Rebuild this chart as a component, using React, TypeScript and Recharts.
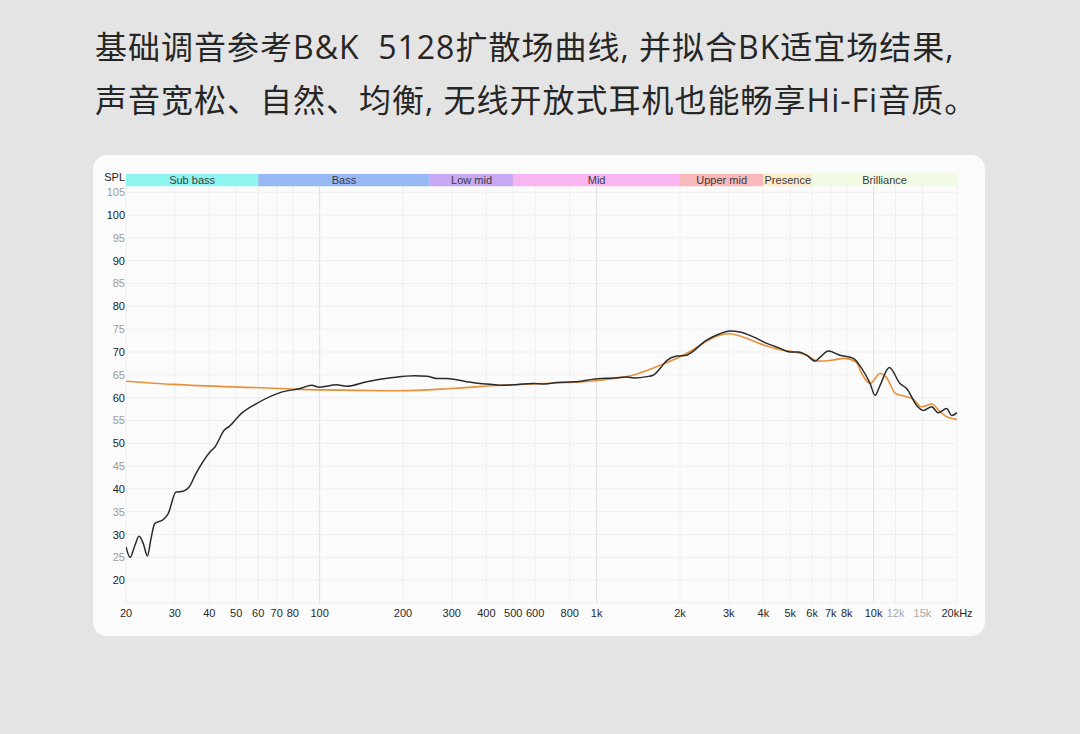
import {
  LineChart,
  Line,
  XAxis,
  YAxis,
  CartesianGrid,
  ReferenceArea,
  ReferenceLine,
} from "recharts";

const TITLE_LINES = [
  "基础调音参考B&K  5128扩散场曲线, 并拟合BK适宜场结果,",
  "声音宽松、自然、均衡, 无线开放式耳机也能畅享Hi-Fi音质。",
];

const X_TICKS = [
  20, 30, 40, 50, 60, 70, 80, 100, 200, 300, 400, 500, 600, 800, 1000, 2000,
  3000, 4000, 5000, 6000, 7000, 8000, 10000, 12000, 15000, 20000,
];
const X_TICKS_MUTED = [12000, 15000];
const X_DECADES = [100, 1000, 10000];
const Y_TICKS = [
  20, 25, 30, 35, 40, 45, 50, 55, 60, 65, 70, 75, 80, 85, 90, 95, 100, 105,
];

const BAND_NAMES = [
  "Sub bass",
  "Bass",
  "Low mid",
  "Mid",
  "Upper mid",
  "Presence",
  "Brilliance",
];
const BAND_EDGES = [20, 60, 250, 500, 2000, 4000, 6000, 20000];
const BAND_COLORS = [
  "#8ef5f1",
  "#98b7f5",
  "#c8a8f1",
  "#f8b5f1",
  "#f9b8b9",
  "#fcebc8",
  "#f0fbe1",
];

// measured response (black)
const MEASURED_FREQ = [
  20, 20.7, 21.5, 22.3, 23.1, 23.9, 24.6, 25.4, 27.3, 28.4, 30.3, 32.2, 33.8,
  35.8, 40.2, 41.9, 45.3, 47.2, 52.1, 59.2, 72, 85, 93.5, 100, 115, 125, 148,
  184, 220, 244, 264, 287, 339, 379, 422, 449, 520, 589, 650, 716, 800, 880,
  967, 1141, 1280, 1370, 1520, 1600, 1700, 1790, 1946, 2114, 2174, 2496, 2787,
  3030, 3294, 3680, 4112, 4592, 4990, 5348, 5732, 6140, 6400, 6860, 7560,
  8452, 9058, 9712, 10116, 10550, 11392, 12450, 13160, 14300, 15110, 16200,
  17100, 18360, 19140, 20000,
];
const MEASURED_SPL = [
  27.3, 25.0, 27.5, 29.6, 28.0, 25.3, 29.0, 32.4, 33.3, 34.6, 39.3, 39.5, 40.4,
  43.4, 48.1, 49.2, 52.9, 53.7, 56.5, 58.7, 61.1, 62.0, 62.7, 62.3, 62.8, 62.5,
  63.5, 64.4, 64.8, 64.7, 64.2, 64.2, 63.5, 63.1, 62.9, 62.7, 62.9, 63.1, 63.0,
  63.3, 63.4, 63.6, 64.0, 64.3, 64.5, 64.3, 64.6, 64.9, 66.5, 68.1, 69.1, 69.3,
  69.7, 72.6, 74.0, 74.6, 74.4, 73.3, 71.9, 70.8, 70.0, 70.0, 69.3, 68.0, 68.8,
  70.2, 69.3, 68.6, 66.4, 63.1, 60.5, 62.7, 66.6, 63.1, 62.0, 58.3, 57.2, 58.0,
  56.7, 57.6, 56.1, 56.7,
];

// fitted target (orange)
const TARGET_FREQ = [
  20, 29.6, 64.4, 85, 140, 194, 300, 449, 782, 1030, 1400, 1700, 1990, 2230,
  2496, 2787, 3030, 3294, 3680, 4112, 4592, 5150, 5732, 6300, 7040, 7860, 8640,
  9058, 9712, 10550, 11100, 12000, 13160, 13800, 14900, 16200, 17400, 18360,
  19700, 20000,
];
const TARGET_SPL = [
  63.6, 62.9, 62.1, 61.8, 61.6, 61.5, 62.0, 62.7, 63.3, 63.8, 65.2, 67.1, 68.9,
  70.5, 72.4, 73.7, 74.0, 73.5, 72.4, 71.3, 70.5, 70.0, 69.3, 68.0, 68.2, 68.6,
  67.8, 65.3, 63.1, 65.3, 64.5, 60.9, 60.2, 59.8, 58.0, 58.6, 56.9, 55.8, 55.3,
  55.2,
];

const measured = MEASURED_FREQ.map((f, i) => ({ f, spl: MEASURED_SPL[i] }));
const target = TARGET_FREQ.map((f, i) => ({ f, spl: TARGET_SPL[i] }));

const CHART_FONT = '"Liberation Sans", Arial, sans-serif';

function fmtFreq(v: number) {
  if (v === 20000) return "20kHz";
  if (v >= 1000) return `${v / 1000}k`;
  return `${v}`;
}

function XTick({ x, y, payload }: any) {
  const v = payload.value;
  return (
    <text
      x={x}
      y={y}
      dy="0.71em"
      textAnchor="middle"
      fontSize={11}
      fontFamily={CHART_FONT}
      fill={X_TICKS_MUTED.includes(v) ? "#a8a8a8" : "#2a2a2a"}
    >
      {fmtFreq(v)}
    </text>
  );
}

function YTick({ x, y, payload }: any) {
  const v = payload.value;
  return (
    <text
      x={x}
      y={y}
      dy="0.36em"
      textAnchor="end"
      fontSize={11}
      fontFamily={CHART_FONT}
      fill={v % 10 === 0 ? "#222222" : "#9a9a9a"}
    >
      {v}
    </text>
  );
}

export default function App() {
  return (
    <div
      style={{
        position: "absolute",
        left: 0,
        top: 0,
        width: 1080,
        height: 734,
        background: "#e4e4e4",
        overflow: "hidden",
      }}
    >
      <div
        style={{
          position: "absolute",
          left: 95,
          top: 20,
          fontFamily: '"Open Sans", "Noto Sans CJK SC", sans-serif',
          fontSize: 32,
          lineHeight: "53px",
          letterSpacing: 1,
          color: "#262626",
          whiteSpace: "pre",
        }}
      >
        {TITLE_LINES.map((t) => (
          <div key={t}>{t}</div>
        ))}
      </div>

      <div
        style={{
          position: "absolute",
          left: 93,
          top: 155,
          width: 892,
          height: 481,
          borderRadius: 14,
          background: "#fbfbfb",
        }}
      />

      <div style={{ position: "absolute", left: 0, top: 0 }}>
        <LineChart
          width={1080}
          height={734}
          margin={{ top: 174, right: 123, bottom: 101, left: 86 }}
        >
          <CartesianGrid stroke="#efefef" strokeWidth={1} />
          <XAxis
            dataKey="f"
            type="number"
            scale="log"
            domain={[20, 20000]}
            allowDataOverflow
            ticks={X_TICKS}
            interval={0}
            tick={<XTick />}
            tickLine={false}
            axisLine={false}
            tickSize={0}
            tickMargin={6}
            height={30}
          />
          <YAxis
            type="number"
            domain={[15, 109]}
            allowDataOverflow
            ticks={Y_TICKS}
            interval={0}
            tick={<YTick />}
            tickLine={false}
            axisLine={false}
            tickSize={0}
            tickMargin={1}
            width={40}
          />
          {X_DECADES.map((d) => (
            <ReferenceLine
              key={d}
              segment={[
                { x: d, y: 15 },
                { x: d, y: 106.3 },
              ]}
              stroke="#e2e2e2"
              strokeWidth={1}
            />
          ))}
          {BAND_NAMES.map((name, i) => (
            <ReferenceArea
              key={name}
              x1={BAND_EDGES[i]}
              x2={BAND_EDGES[i + 1]}
              y1={106.3}
              y2={109}
              fill={BAND_COLORS[i]}
              fillOpacity={1}
              stroke="none"
              label={{
                value: name,
                position: "center",
                fontSize: 11,
                fill: "#3a3a3a",
                fontFamily: CHART_FONT,
              }}
            />
          ))}
          <Line
            data={target}
            dataKey="spl"
            type="monotone"
            stroke="#e8913a"
            strokeWidth={1.6}
            dot={false}
            activeDot={false}
            isAnimationActive={false}
          />
          <Line
            data={measured}
            dataKey="spl"
            type="monotone"
            stroke="#2b2b2b"
            strokeWidth={1.5}
            dot={false}
            activeDot={false}
            isAnimationActive={false}
          />
        </LineChart>
      </div>

      <div
        style={{
          position: "absolute",
          left: 95,
          top: 170,
          width: 30,
          textAlign: "right",
          fontFamily: CHART_FONT,
          fontSize: 11,
          lineHeight: "14px",
          color: "#1e1e1e",
        }}
      >
        SPL
      </div>
    </div>
  );
}
